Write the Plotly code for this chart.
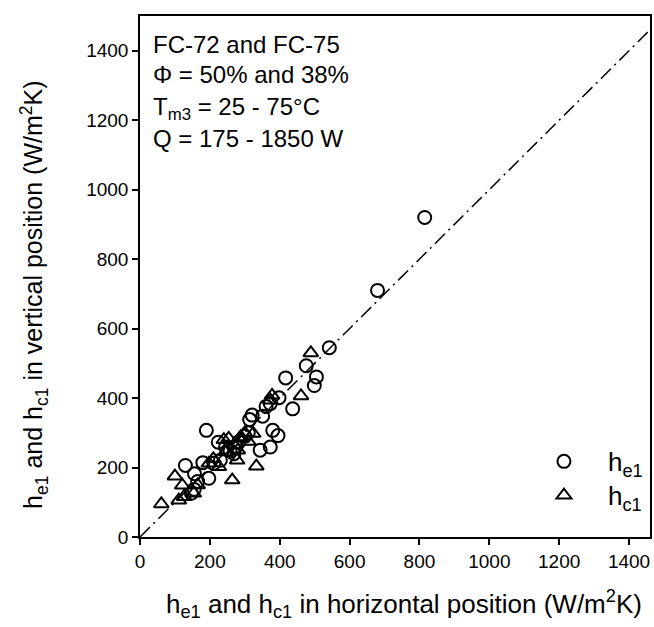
import plotly.graph_objects as go

# Evaporator heat transfer coefficient h_e1 (W/m2K): horizontal vs vertical
he1_horizontal = [542, 476, 417, 505, 499, 398, 373, 361, 437, 321, 314, 351,
                  190, 380, 395, 224, 283, 245, 275, 373, 344, 269, 230, 211,
                  130, 180, 156, 197, 155, 147, 680, 815, 300, 310, 258, 165]
he1_vertical = [545, 493, 458, 461, 436, 401, 384, 376, 369, 351, 338, 348,
                307, 307, 292, 273, 274, 259, 261, 259, 250, 240, 221, 212,
                206, 214, 182, 169, 137, 126, 710, 920, 290, 300, 248, 160]

# Condenser heat transfer coefficient h_c1 (W/m2K): horizontal vs vertical
hc1_horizontal = [489, 461, 378, 373, 324, 292, 254, 288, 278, 333, 264, 100,
                  121, 61, 111, 154, 226, 197, 300, 270, 310, 245, 165, 126,
                  210, 280, 240]
hc1_vertical = [530, 406, 408, 394, 298, 284, 284, 288, 221, 204, 164, 175,
                149, 95, 106, 126, 202, 212, 300, 265, 275, 245, 150, 116,
                225, 250, 280]

diag = [0, 1500]

FONT = "Liberation Sans, Arial, sans-serif"

fig = go.Figure()

fig.add_trace(go.Scatter(
    x=diag, y=diag, mode="lines", showlegend=False, hoverinfo="skip",
    line=dict(color="black", width=1.5, dash="14px,5px,2px,5px"),
))

fig.add_trace(go.Scatter(
    x=he1_horizontal, y=he1_vertical, mode="markers",
    name="h<sub>e1</sub>", legend="legend",
    marker=dict(symbol="circle-open", size=13, color="black",
                line=dict(width=2, color="black")),
))

fig.add_trace(go.Scatter(
    x=hc1_horizontal, y=hc1_vertical, mode="markers",
    name="h<sub>c1</sub>", legend="legend2",
    marker=dict(symbol="triangle-up-open", size=13, color="black",
                line=dict(width=2, color="black")),
))

axis_common = dict(
    showgrid=False, zeroline=False,
    showline=True, linecolor="black", linewidth=1.5, mirror=True,
    ticks="outside", ticklen=6, tickwidth=1.5, tickcolor="black",
    tickfont=dict(family=FONT, size=19, color="black"),
    tickmode="array", tickvals=[0, 200, 400, 600, 800, 1000, 1200, 1400],
)

fig.update_xaxes(range=[0, 1460], **axis_common)
fig.update_yaxes(range=[0, 1500], **axis_common)

legend_common = dict(
    bgcolor="rgba(0,0,0,0)", borderwidth=0, itemwidth=78,
    font=dict(family=FONT, size=26, color="black"),
    xanchor="left", yanchor="middle", xref="paper", yref="paper",
)

annotations = [
    dict(text="h<sub>e1</sub> and h<sub>c1</sub> in horizontal position (W/m<sup>2</sup>K)",
         x=0.518, y=-0.128, xref="paper", yref="paper", showarrow=False,
         xanchor="center", yanchor="middle",
         font=dict(family=FONT, size=26, color="black")),
    dict(text="h<sub>e1</sub> and h<sub>c1</sub> in vertical position (W/m<sup>2</sup>K)",
         x=-0.208, y=0.4645, xref="paper", yref="paper", showarrow=False,
         textangle=-90, xanchor="center", yanchor="middle",
         font=dict(family=FONT, size=25, color="black")),
]

info_lines = [
    ("FC-72 and FC-75", 0.946),
    ("\u03a6 = 50% and 38%", 0.887),
    ("T<sub>m3</sub> = 25 - 75\u00b0C", 0.823),
    ("Q = 175 - 1850 W", 0.764),
]
for txt, yy in info_lines:
    annotations.append(dict(
        text=txt, x=0.022, y=yy, xref="paper", yref="paper", showarrow=False,
        xanchor="left", yanchor="middle",
        font=dict(family=FONT, size=24, color="black")))

fig.update_layout(
    width=654, height=627,
    margin=dict(l=140, r=2, t=16, b=90),
    paper_bgcolor="white", plot_bgcolor="white",
    showlegend=True,
    legend=dict(x=0.745, y=0.145, **legend_common),
    legend2=dict(x=0.745, y=0.08, **legend_common),
    annotations=annotations,
)

fig.write_html("out.html")
